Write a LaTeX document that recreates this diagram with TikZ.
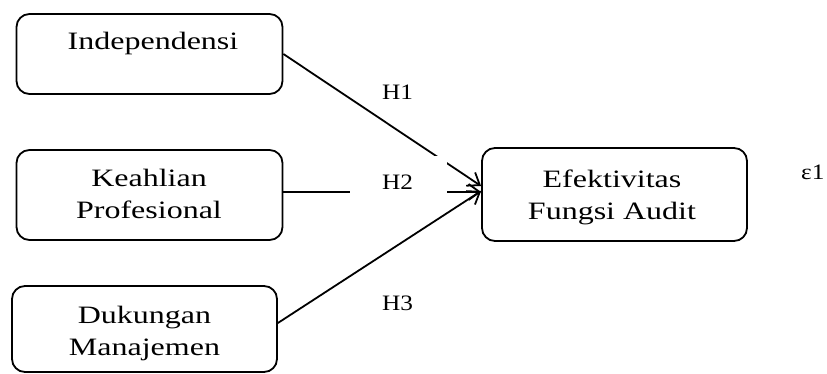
\documentclass[tikz,border=0pt]{standalone}
\usepackage{fontspec}
\setmainfont{Liberation Serif}[FakeStretch=1.28]
\newfontfamily\hfont{Liberation Serif}[FakeStretch=1.15]
\usetikzlibrary{arrows.meta}
\tikzset{
  box/.style={draw, line width=1.8pt, rounded corners=13pt, inner sep=0pt},
  txt/.style={anchor=base, inner sep=0pt, font=\fontsize{25}{30}\selectfont},
  hyp/.style={anchor=base, inner sep=0pt, font=\hfont\fontsize{22}{26}\selectfont},
  arr/.style={line width=1.8pt, -{Straight Barb[length=11pt,width=16pt,line width=1.8pt]}},
  mask/.style={fill=white, inner sep=0pt}
}
\begin{document}
\begin{tikzpicture}[x=1pt,y=-1pt]
\useasboundingbox (0,0) rectangle (827,374);
% boxes
\node[box, minimum width=266pt, minimum height=80pt] (ind) at (149.5,54) {};
\node[box, minimum width=266pt, minimum height=90pt] (kea) at (149.5,195) {};
\node[box, minimum width=265pt, minimum height=86pt] (duk) at (144.5,329) {};
\node[box, minimum width=265pt, minimum height=93pt] (eff) at (614.5,194.5) {};
% texts
\node[txt] (t1) at (153,50) {Independensi};
\node[txt] (t2a) at (149,187) {Keahlian};
\node[txt] (t2b) at (149,218.5) {Profesional};
\node[txt] (t3a) at (144.5,323) {Dukungan};
\node[txt] (t3b) at (144.5,355) {Manajemen};
\node[txt] (t4a) at (612,188) {Efektivitas};
\node[txt] (t4b) at (612,219.5) {Fungsi Audit};
% connectors
\draw[arr] (ind.east) -- ([yshift=8.5pt]eff.west);
\draw[arr] ([yshift=3pt]kea.east) -- ([yshift=2.5pt]eff.west);
\draw[arr] ([yshift=6pt]duk.east) -- ([yshift=3.5pt]eff.west);
% labels
\node[mask, minimum width=97pt, minimum height=49pt] (m2) at (398.5,180.5) {};
\node[hyp] (h1) at (397.5,100) {H1};
\node[hyp] (h2) at (397.5,190) {H2};
\node[hyp] (h3) at (397.5,310) {H3};
\node[hyp, anchor=base west] (eps) at (801,180) {ε1};
\end{tikzpicture}
\end{document}
